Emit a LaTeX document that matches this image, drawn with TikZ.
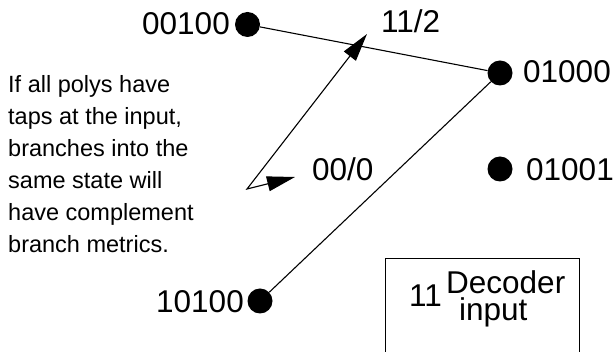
\documentclass[tikz,border=0pt]{standalone}
\usepackage{fontspec}
\setmainfont{Liberation Sans}
\usetikzlibrary{arrows.meta}

\tikzset{
  state/.style={circle, fill=black, inner sep=0pt, minimum size=25pt},
  big/.style={anchor=base west, inner sep=0pt, font=\fontsize{31.5}{36}\selectfont},
  note/.style={anchor=base west, inner sep=0pt, font=\fontsize{23.5}{32}\selectfont},
  branch/.style={line width=1.1pt},
  bighead/.style={line width=1.1pt, {Triangle[length=28pt,width=15pt]}-{Triangle[length=28pt,width=15pt]}},
}

\begin{document}
\begin{tikzpicture}[x=1pt,y=-1pt]
  \useasboundingbox (0,0) rectangle (614,352);

  % trellis states
  \node[state] (s00100) at (247.5,24.5) {};
  \node[state] (s01000) at (500,73) {};
  \node[state] (s01001) at (500,169) {};
  \node[state] (s10100) at (260,301) {};

  \node[big] (l00100) at (142,35) {00100};
  \node[big] (l01000) at (523,83) {01000};
  \node[big] (l01001) at (526,181) {01001};
  \node[big] (l10100) at (156,313) {10100};

  % branches into state 01000
  \draw[branch] (s00100) -- (s01000);
  \draw[branch] (s10100) -- (s01000);

  % branch labels
  \node[big] (b11) at (381,33) {11/2};
  \node[big] (b00) at (312,181) {00/0};

  % pointer from the note to both branch labels
  \coordinate (tipup) at (367,34);
  \coordinate (corner) at (247,189);
  \coordinate (tipright) at (295,177);
  \draw[bighead] (tipup) -- (corner) -- (tipright);

  % note
  \foreach \t [count=\i] in {If all polys have, {taps at the input,}, branches into the, same state will, have complement, branch metrics.} {
    \node[note] (note\i) at (8,{93+32*(\i-1)}) {\t};
  }

  % decoder input box
  \coordinate (boxbl) at (385,356);
  \coordinate (boxtl) at (385,259);
  \coordinate (boxtr) at (579,259);
  \coordinate (boxbr) at (579,356);
  \draw[line width=1pt] (boxbl) -- (boxtl) -- (boxtr) -- (boxbr);
  \node[big] (din) at (409,307) {11};
  \node[big] (dlab1) at (446,294) {Decoder};
  \node[big] (dlab2) at (459,321) {input};
\end{tikzpicture}
\end{document}
